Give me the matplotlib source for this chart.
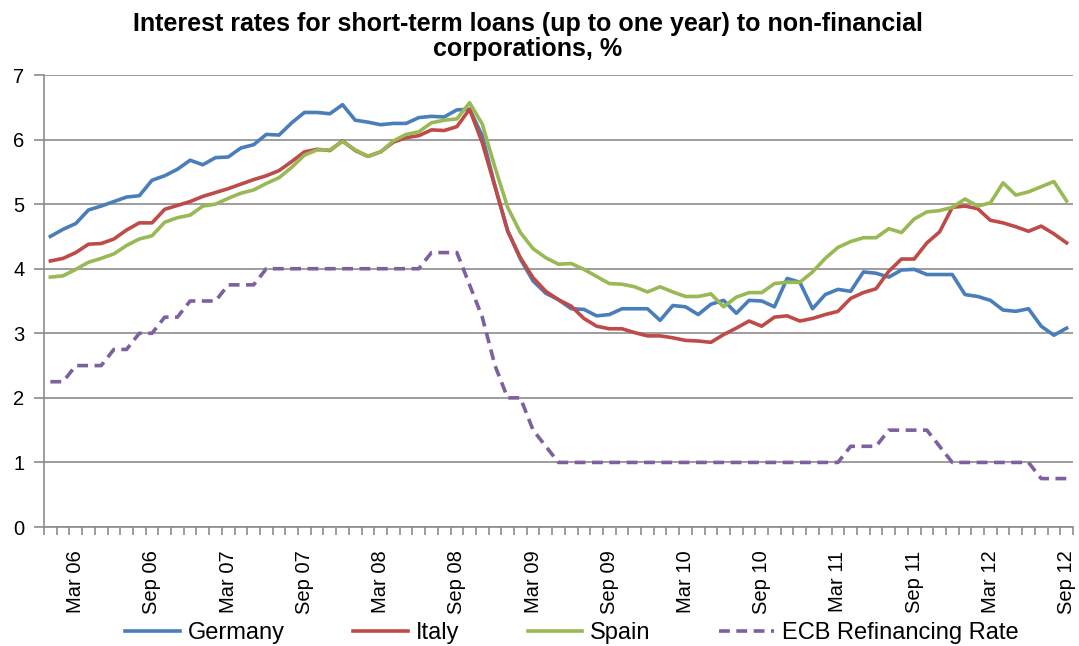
import matplotlib

matplotlib.use("Agg")
import matplotlib.pyplot as plt
import pandas as pd
from matplotlib.ticker import FixedLocator

plt.rcParams["font.family"] = ["Liberation Sans", "DejaVu Sans"]

# monthly observations, Jan 2006 .. Sep 2012
months = pd.date_range("2006-01-01", periods=81, freq="MS")

germany = [
    4.50, 4.61, 4.70, 4.91, 4.97, 5.04, 5.11, 5.13, 5.37, 5.44,
    5.54, 5.68, 5.61, 5.72, 5.73, 5.87, 5.92, 6.08, 6.07, 6.26,
    6.42, 6.42, 6.40, 6.54, 6.30, 6.27, 6.23, 6.25, 6.25, 6.34,
    6.36, 6.35, 6.46, 6.47, 6.06, 5.28, 4.59, 4.15, 3.81, 3.62,
    3.52, 3.38, 3.37, 3.27, 3.29, 3.38, 3.38, 3.38, 3.20, 3.43,
    3.41, 3.29, 3.45, 3.51, 3.31, 3.51, 3.50, 3.41, 3.85, 3.79,
    3.38, 3.60, 3.68, 3.65, 3.95, 3.93, 3.87, 3.98, 3.99, 3.91,
    3.91, 3.91, 3.60, 3.57, 3.51, 3.36, 3.34, 3.38, 3.11, 2.97,
    3.08,
]
italy = [
    4.12, 4.16, 4.25, 4.38, 4.39, 4.46, 4.60, 4.71, 4.71, 4.92,
    4.98, 5.04, 5.12, 5.18, 5.24, 5.31, 5.38, 5.44, 5.52, 5.66,
    5.81, 5.85, 5.83, 5.98, 5.83, 5.74, 5.81, 5.96, 6.03, 6.06,
    6.15, 6.14, 6.20, 6.47, 5.95, 5.27, 4.58, 4.17, 3.86, 3.65,
    3.52, 3.42, 3.23, 3.11, 3.07, 3.07, 3.01, 2.96, 2.96, 2.93,
    2.89, 2.88, 2.86, 2.98, 3.08, 3.19, 3.11, 3.25, 3.27, 3.19,
    3.23, 3.29, 3.34, 3.54, 3.63, 3.69, 3.96, 4.15, 4.15, 4.40,
    4.57, 4.95, 4.97, 4.93, 4.75, 4.71, 4.65, 4.58, 4.66, 4.54,
    4.40,
]
spain = [
    3.87, 3.89, 3.99, 4.10, 4.16, 4.23, 4.36, 4.46, 4.51, 4.72,
    4.79, 4.83, 4.97, 5.00, 5.09, 5.17, 5.22, 5.32, 5.41, 5.57,
    5.76, 5.84, 5.84, 5.97, 5.84, 5.74, 5.81, 5.98, 6.08, 6.12,
    6.26, 6.30, 6.32, 6.57, 6.24, 5.57, 4.95, 4.56, 4.31, 4.17,
    4.07, 4.08, 3.99, 3.88, 3.77, 3.76, 3.72, 3.64, 3.72, 3.64,
    3.57, 3.57, 3.61, 3.41, 3.56, 3.63, 3.63, 3.77, 3.79, 3.79,
    3.95, 4.16, 4.33, 4.42, 4.48, 4.48, 4.62, 4.56, 4.77, 4.88,
    4.90, 4.95, 5.08, 4.97, 5.02, 5.33, 5.14, 5.19, 5.27, 5.35,
    5.05,
]
ecb = [
    2.25, 2.25, 2.50, 2.50, 2.50, 2.75, 2.75, 3.00, 3.00, 3.25,
    3.25, 3.50, 3.50, 3.50, 3.75, 3.75, 3.75, 4.00, 4.00, 4.00,
    4.00, 4.00, 4.00, 4.00, 4.00, 4.00, 4.00, 4.00, 4.00, 4.00,
    4.25, 4.25, 4.25, 3.75, 3.25, 2.50, 2.00, 2.00, 1.50, 1.25,
    1.00, 1.00, 1.00, 1.00, 1.00, 1.00, 1.00, 1.00, 1.00, 1.00,
    1.00, 1.00, 1.00, 1.00, 1.00, 1.00, 1.00, 1.00, 1.00, 1.00,
    1.00, 1.00, 1.00, 1.25, 1.25, 1.25, 1.50, 1.50, 1.50, 1.50,
    1.25, 1.00, 1.00, 1.00, 1.00, 1.00, 1.00, 1.00, 0.75, 0.75,
    0.75,
]

fig = plt.figure(figsize=(10.79, 6.46), dpi=100)
ax = fig.add_axes([0.0408, 0.1842, 0.9536, 0.6997])

x = range(len(months))
lw = 2.6
ax.plot(x, germany, color="#4A7EBB", lw=lw, label="Germany", zorder=3)
ax.plot(x, italy, color="#BE4B48", lw=lw, label="Italy", zorder=4)
ax.plot(x, spain, color="#98B954", lw=lw, label="Spain", zorder=5)
ax.plot(x, ecb, color="#7D60A0", lw=lw, dashes=(3, 1.8),
        label="ECB Refinancing Rate", zorder=3)

ax.set_xlim(-0.5, len(months) - 0.5)
ax.set_ylim(0, 7)
ax.set_yticks(range(8))
ax.grid(axis="y", color="#8C8C8C", lw=1.2)
ax.set_axisbelow(True)

label_idx = [i for i, m in enumerate(months) if m.month in (3, 9)]
ax.set_xticks(label_idx)
ax.set_xticklabels([months[i].strftime("%b %y") for i in label_idx],
                   rotation=90, ha="center", va="top")
ax.xaxis.set_minor_locator(FixedLocator([i - 0.5 for i in range(len(months) + 1)]))
ax.tick_params(axis="x", which="major", length=0, pad=17, labelsize=14.5)
ax.tick_params(axis="x", which="minor", length=6, width=1.2, color="#8C8C8C")
ax.tick_params(axis="y", length=7, width=1.2, color="#8C8C8C", labelsize=14.5, pad=7)

for side in ("top", "right"):
    ax.spines[side].set_visible(False)
for side in ("left", "bottom"):
    ax.spines[side].set_color("#8C8C8C")
    ax.spines[side].set_linewidth(1.2)

fig.suptitle("Interest rates for short-term loans (up to one year) to non-financial\n"
             "corporations, %", x=0.489, y=0.982, fontsize=18, fontweight="bold",
             linespacing=1.08)

fig.legend(loc="center", bbox_to_anchor=(0.53, 0.02), ncol=4, frameon=False,
           fontsize=17, handlelength=2.3, columnspacing=2.9, handletextpad=0.35)

fig.savefig("out.png", dpi=100)
